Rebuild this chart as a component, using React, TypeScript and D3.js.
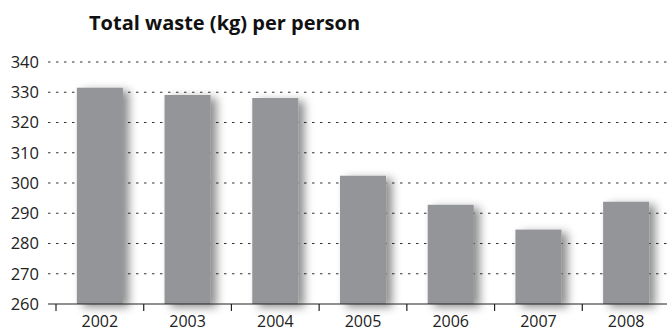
import React from "react";
import * as d3 from "d3";

const years = ["2002", "2003", "2004", "2005", "2006", "2007", "2008"];
const wastePerPerson = [331.5, 329.1, 328.1, 302.4, 292.8, 284.6, 293.8];
const yTicks = [260, 270, 280, 290, 300, 310, 320, 330, 340];
const title = "Total waste (kg) per person";

const W = 667;
const H = 331;
const FONT = "'Open Sans', sans-serif";

export default function App() {
  const x = d3.scaleBand<string>().domain(years).range([56, 670]).paddingInner(0.475).paddingOuter(0.2375);
  const y = d3.scaleLinear().domain([260, 340]).range([304, 62]);
  const step = x.step();
  const tickXs = years.map((yr) => (x(yr) as number) - (x.paddingInner() * step) / 2);

  return (
    <svg
      width={W}
      height={H}
      style={{ position: "absolute", left: 0, top: 0, background: "#fff" }}
      fontFamily={FONT}
    >
      <defs>
        <filter id="barShadow" x="-50%" y="-10%" width="220%" height="130%">
          <feDropShadow dx="6" dy="3" stdDeviation="5" floodColor="#000" floodOpacity="0.45" />
        </filter>
      </defs>

      <text x={89} y={30} fontSize={20} fontWeight={700} fill="#111">
        {title}
      </text>

      {/* dotted gridlines */}
      {yTicks
        .filter((t) => t !== 260)
        .map((t) => (
          <line
            key={`g${t}`}
            x1={48}
            x2={W}
            y1={y(t)}
            y2={y(t)}
            stroke="#333"
            strokeWidth={1}
            strokeDasharray="2.5,5.5"
          />
        ))}

      {/* y labels */}
      {yTicks.map((t) => (
        <text
          key={`l${t}`}
          x={39}
          y={y(t)}
          dy="0.36em"
          textAnchor="end"
          fontSize={16.5}
          fill="#222"
        >
          {t}
        </text>
      ))}

      {/* bars */}
      <g filter="url(#barShadow)">
        {years.map((yr, i) => (
          <rect
            key={yr}
            x={x(yr)}
            y={y(wastePerPerson[i])}
            width={x.bandwidth()}
            height={y(260) - y(wastePerPerson[i])}
            fill="#939598"
          />
        ))}
      </g>

      {/* x axis */}
      <line x1={48} x2={W} y1={y(260)} y2={y(260)} stroke="#222" strokeWidth={1.2} />
      {tickXs.map((tx, i) => (
        <line key={`t${i}`} x1={tx} x2={tx} y1={y(260)} y2={y(260) + 7} stroke="#222" strokeWidth={1.2} />
      ))}
      {years.map((yr) => (
        <text
          key={`x${yr}`}
          x={(x(yr) as number) + x.bandwidth() / 2}
          y={327}
          textAnchor="middle"
          fontSize={16}
          fill="#222"
        >
          {yr}
        </text>
      ))}
    </svg>
  );
}
